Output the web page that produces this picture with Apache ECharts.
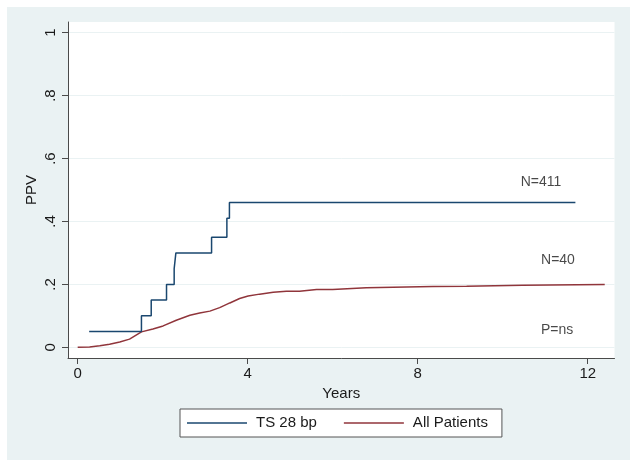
<!DOCTYPE html>
<html>
<head>
<meta charset="utf-8">
<script src="https://cdn.jsdelivr.net/npm/echarts@6/dist/echarts.min.js"></script>
<style>html,body{margin:0;padding:0;background:#fff;}#c{width:637px;height:466px;}</style>
</head>
<body>
<div id="c"></div>
<script>
// ---- data ----
const seriesNames = ['TS 28 bp', 'All Patients'];
const tsTimes  = [0.27, 1.50, 1.73, 2.09, 2.27, 2.31, 3.15, 3.51, 3.57, 11.71];
const tsValues = [0.05, 0.10, 0.15, 0.20, 0.25, 0.30, 0.35, 0.41, 0.46, 0.46];
const allTimes  = [0, 0.28, 0.52, 0.75, 0.99, 1.22, 1.50, 1.77, 2.01, 2.32, 2.64, 2.87, 3.11, 3.34, 3.58, 3.81, 4.01, 4.28, 4.60, 4.91, 5.22, 5.62, 6.00, 6.79, 8.36, 9.15, 10.46, 10.47, 12.40];
const allValues = [0, 0.001, 0.005, 0.010, 0.017, 0.026, 0.049, 0.058, 0.068, 0.086, 0.102, 0.109, 0.115, 0.126, 0.141, 0.155, 0.163, 0.169, 0.175, 0.178, 0.178, 0.184, 0.184, 0.189, 0.193, 0.194, 0.197, 0.201, 0.200];
const xTicks = [0, 4, 8, 12];
const yTicks = [0, 0.2, 0.4, 0.6, 0.8, 1];
const yTickLabels = ['0', '.2', '.4', '.6', '.8', '1'];
const noteTexts = ['N=411', 'N=40', 'P=ns'];
const noteX = [10.90, 11.30, 11.28];
const noteY = [0.524, 0.277, 0.055];
const xTitle = 'Years';
const yTitle = 'PPV';

const zip = (a, b) => a.map((v, i) => [v, b[i]]);
const font = '"Liberation Sans", Arial, sans-serif';

const chart = echarts.init(document.getElementById('c'), null, {renderer: 'canvas'});
chart.setOption({
  animation: false,
  backgroundColor: '#ffffff',
  graphic: [{
    type: 'rect', z: -100, silent: true,
    shape: {x: 7, y: 7, width: 623, height: 453},
    style: {fill: '#eaf2f3'}
  }],
  grid: {
    left: 68, right: 22.5, top: 22, bottom: 108,
    show: true, backgroundColor: '#ffffff', borderWidth: 0
  },
  xAxis: {
    type: 'value', min: -0.228, max: 12.63,
    name: xTitle, nameLocation: 'middle', nameGap: 23,
    nameTextStyle: {fontFamily: font, fontSize: 15, color: '#1a1a1a'},
    axisLine: {show: true, onZero: false, lineStyle: {color: '#4a4a4a', width: 1}},
    axisTick: {show: true, length: 6, customValues: xTicks, lineStyle: {color: '#4a4a4a'}},
    axisLabel: {customValues: xTicks, fontFamily: font, fontSize: 15, color: '#1a1a1a', margin: 8},
    splitLine: {show: false}
  },
  yAxis: {
    type: 'value', min: -0.034, max: 1.034,
    name: yTitle, nameLocation: 'middle', nameGap: 29, nameRotate: 90, nameMoveOverlap: false,
    nameTextStyle: {fontFamily: font, fontSize: 15, color: '#1a1a1a'},
    axisLine: {show: true, onZero: false, lineStyle: {color: '#4a4a4a', width: 1}},
    axisTick: {show: true, length: 6, customValues: yTicks, lineStyle: {color: '#4a4a4a'}},
    axisLabel: {
      customValues: yTicks, rotate: 90, fontFamily: font, fontSize: 15, color: '#1a1a1a', margin: 10,
      formatter: v => { const i = yTicks.findIndex(t => Math.abs(t - v) < 1e-6); return i >= 0 ? yTickLabels[i] : ''; }
    },
    splitLine: {show: true, lineStyle: {color: '#eaf2f3', width: 1}}
  },
  legend: {
    data: seriesNames.map(n => ({name: n, icon: 'rect'})),
    left: 180, top: 409,
    orient: 'horizontal',
    backgroundColor: '#ffffff', borderColor: '#555555', borderWidth: 1, borderRadius: 0,
    padding: [5, 14, 5, 7],
    itemWidth: 60, itemHeight: 1.5, itemGap: 27,
    textStyle: {fontFamily: font, fontSize: 15, color: '#1a1a1a', lineHeight: 18, padding: [0, 0, 0, 4]}
  },
  series: [
    {
      name: seriesNames[0], type: 'line', step: 'end', data: zip(tsTimes, tsValues),
      symbol: 'none', lineStyle: {color: '#1a476f', width: 1.5}, itemStyle: {color: '#1a476f'}, z: 3
    },
    {
      name: seriesNames[1], type: 'line', data: zip(allTimes, allValues),
      symbol: 'none', lineStyle: {color: '#90353b', width: 1.5}, itemStyle: {color: '#90353b'}, z: 2
    },
    {
      name: 'notes', type: 'scatter', symbolSize: 0, silent: true,
      data: noteTexts.map((t, i) => ({value: [noteX[i], noteY[i]], name: t})),
      label: {show: true, position: 'inside', formatter: p => p.name, fontFamily: font, fontSize: 14, color: '#1a1a1a'}
    }
  ]
});
</script>
</body>
</html>
